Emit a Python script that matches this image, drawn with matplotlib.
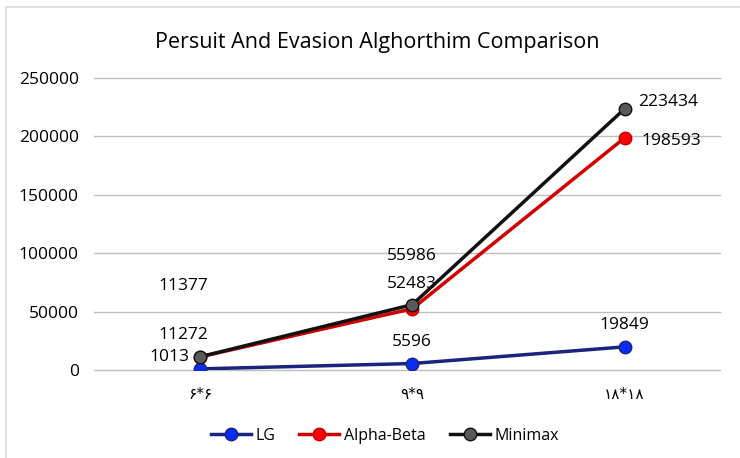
import matplotlib.pyplot as plt
from matplotlib.lines import Line2D

plt.rcParams['font.family'] = ['Open Sans', 'DejaVu Sans']

categories = ['۶*۶', '۹*۹', '۱۸*۱۸']
lg = [1013, 5596, 19849]
alpha_beta = [11272, 52483, 198593]
minimax = [11377, 55986, 223434]

fig = plt.figure(figsize=(7.4, 4.58), dpi=100)
ax = fig.add_axes([0.127, 0.192, 0.846, 0.638])

# faint frame on top and left edges like the original chart border
fig.add_artist(Line2D([0.008, 0.008], [0.0, 0.985], color='#e0e0e0', lw=1.5))
fig.add_artist(Line2D([0.008, 1.0], [0.985, 0.985], color='#e0e0e0', lw=1.5))

x = range(len(categories))
ax.plot(x, lg, color='#1a237e', lw=2.5, marker='o', ms=9,
        markerfacecolor='#0a2cf0', markeredgecolor='#1a237e', label='LG', zorder=3)
ax.plot(x, alpha_beta, color='#d00000', lw=2.5, marker='o', ms=9,
        markerfacecolor='#ff0000', markeredgecolor='#c00000', label='Alpha-Beta', zorder=4)
ax.plot(x, minimax, color='#111111', lw=2.5, marker='o', ms=9,
        markerfacecolor='#595959', markeredgecolor='#111111', label='Minimax', zorder=5)

# data labels
fs = 12.5
def lab(val, xi, yi, dx, dy, ha='center', va='bottom'):
    ax.annotate(str(val), (xi, yi), xytext=(dx, dy), textcoords='offset points',
                ha=ha, va=va, fontsize=fs)

lab(lg[0], 0, lg[0], -8, 3, ha='right')
lab(lg[1], 1, lg[1], 0, 10)
lab(lg[2], 2, lg[2], 0, 10)
lab(alpha_beta[0], 0, alpha_beta[0], -12, 10)
lab(alpha_beta[1], 1, alpha_beta[1], 0, 12)
lab(alpha_beta[2], 2, alpha_beta[2], 12, -2, ha='left', va='center')
lab(minimax[0], 0, minimax[0], -12, 45)
lab(minimax[1], 1, minimax[1], 0, 29)
lab(minimax[2], 2, minimax[2], 10, 5, ha='left', va='center')

ax.set_xlim(-0.5, 2.45)
ax.set_ylim(0, 250000)
ax.set_yticks(range(0, 250001, 50000))
ax.set_xticks(list(x))
ax.set_xticklabels(categories, fontsize=11, family=['DejaVu Sans'])
ax.tick_params(axis='y', labelsize=12.5, length=0, pad=11)
ax.tick_params(axis='x', length=0, pad=12)
ax.grid(axis='y', color='#bfbfbf', lw=1)
for gl in ax.get_ygridlines():
    gl.set_clip_on(False)
ax.set_axisbelow(True)
for s in ax.spines.values():
    s.set_visible(False)

fig.suptitle('Persuit And Evasion Alghorthim Comparison', fontsize=15.5, x=0.51, y=0.93)
fig.legend(loc='lower center', bbox_to_anchor=(0.52, 0.0), ncol=3, frameon=False,
           fontsize=11.5, handlelength=2.5, columnspacing=1.5, handletextpad=0.3)

fig.savefig('out.png', dpi=100)
